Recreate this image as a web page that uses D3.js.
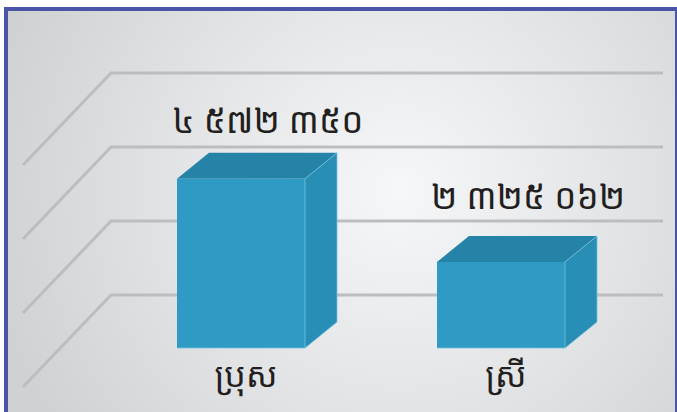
<!DOCTYPE html>
<html><head><meta charset="utf-8">
<script src="https://cdn.jsdelivr.net/npm/d3@7"></script>
<style>html,body{margin:0;padding:0;background:#fff}svg{display:block}</style>
</head><body>
<script>
const categories = ["ប្រុស", "ស្រី"];
const values = [4572350, 2325062];
const valueLabels = ["៤ ៥៧២ ៣៥០", "២ ៣២៥ ០៦២"];
const gridValues = [2000000, 4000000, 6000000, 8000000];

const W = 677, H = 412;
const svg = d3.select("body").append("svg").attr("width", W).attr("height", H);
const defs = svg.append("defs");
const rg = defs.append("radialGradient").attr("id", "bg")
  .attr("gradientUnits", "userSpaceOnUse").attr("cx", 400).attr("cy", 190).attr("r", 420);
rg.append("stop").attr("offset", "0").attr("stop-color", "#f6f7f8");
rg.append("stop").attr("offset", "0.55").attr("stop-color", "#e2e3e5");
rg.append("stop").attr("offset", "1").attr("stop-color", "#d0d1d3");

svg.append("rect").attr("x", 6).attr("y", 9).attr("width", 671).attr("height", 420)
  .attr("fill", "url(#bg)").attr("stroke", "#4a55a7").attr("stroke-width", 4);

const font = "'Noto Sans Khmer','Khmer OS','Khmer OS System','Hanuman',sans-serif";

const x = d3.scaleBand().domain(categories).range([177, 565]).paddingInner(132 / 260).paddingOuter(0);
const h = d3.scaleLinear().domain([0, 8000000]).range([0, 296]);
// label height above the bars' back base line
const hLabel = d3.scaleLinear().domain([0, 8000000]).range([34, 34 + 0.916 * 296]);

const wallBase = 369, wallLeft = 111, wallRight = 663, sideDx = -88, sideDy = 92;
const barBase = 348, depthX = 32, depthY = -26;

const grid = svg.append("g").attr("stroke", "#bcbdbf").attr("stroke-width", 3).attr("fill", "none");
gridValues.forEach(v => {
  const y = wallBase - h(v);
  grid.append("path").attr("d", `M${wallLeft + sideDx},${y + sideDy}L${wallLeft},${y}L${wallRight},${y}`);
});

const bars = svg.append("g");
categories.forEach((c, i) => {
  const x0 = x(c), x1 = x0 + x.bandwidth();
  const yt = barBase - h(values[i]);
  const g = bars.append("g");
  g.append("path").attr("d", `M${x0},${yt}L${x0 + depthX},${yt + depthY}L${x1 + depthX},${yt + depthY}L${x1},${yt}Z`)
    .attr("fill", "#2683a8");
  g.append("path").attr("d", `M${x1},${yt}L${x1 + depthX},${yt + depthY}L${x1 + depthX},${barBase + depthY}L${x1},${barBase}Z`)
    .attr("fill", "#288eb6");
  g.append("rect").attr("x", x0).attr("y", yt).attr("width", x.bandwidth()).attr("height", barBase - yt)
    .attr("fill", "#2f9ac4");
  g.append("path").attr("d", `M${x1},${barBase}L${x1},${yt}L${x1 + depthX},${yt + depthY}M${x0},${barBase}L${x1},${barBase}L${x1 + depthX},${barBase + depthY}L${x1 + depthX},${yt + depthY}`)
    .attr("fill", "none").attr("stroke", "#72c2e0").attr("stroke-width", 1).attr("opacity", 0.8);

  svg.append("text").attr("x", x0 + x.bandwidth() / 2 + 27).attr("y", barBase + depthY - hLabel(values[i]))
    .attr("text-anchor", "middle").attr("font-family", font).attr("font-size", 35)
    .attr("fill", "#231f20").text(valueLabels[i]);
  svg.append("text").attr("x", x0 + x.bandwidth() / 2 + 5).attr("y", 387)
    .attr("text-anchor", "middle").attr("font-family", font).attr("font-size", 34)
    .attr("fill", "#231f20").text(c);
});
</script>
</body></html>
